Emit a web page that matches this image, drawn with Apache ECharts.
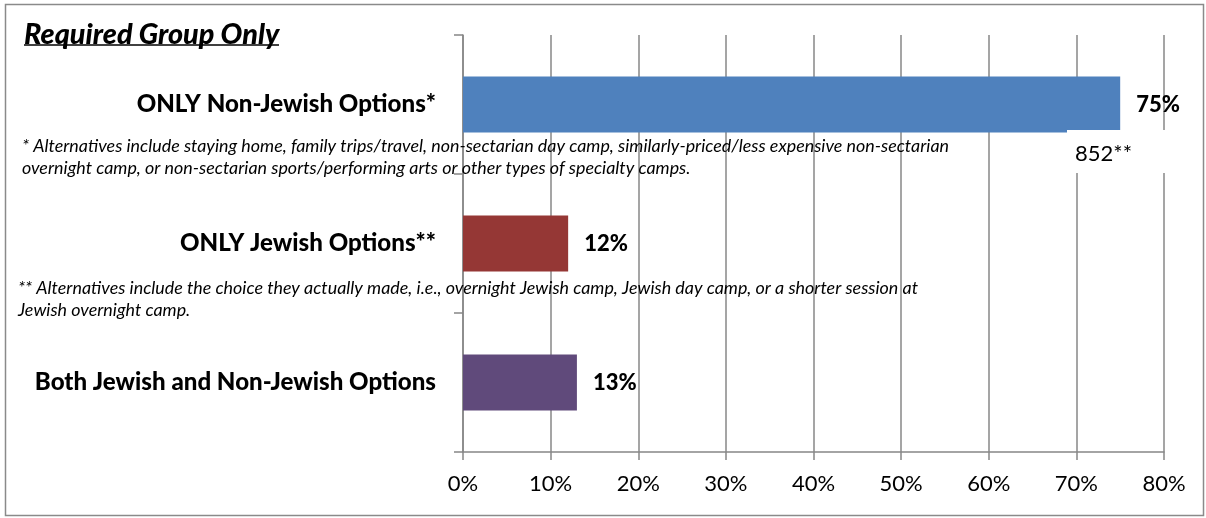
<!DOCTYPE html>
<html>
<head>
<meta charset="utf-8">
<script src="https://cdn.jsdelivr.net/npm/echarts@6/dist/echarts.min.js"></script>
<style>
html,body{margin:0;padding:0;background:#fff;}
#chart{width:1206px;height:518px;}
</style>
</head>
<body>
<div id="chart"></div>
<script>
// ---- data ----
var categories = ['ONLY Non-Jewish Options*', 'ONLY Jewish Options**', 'Both Jewish and Non-Jewish Options'];
var values = [75, 12, 13];
var barColors = ['#4F81BD', '#953735', '#604A7B'];
var xTicks = [0, 10, 20, 30, 40, 50, 60, 70, 80];
var titleText = 'Required Group Only';
var note1 = ['* Alternatives include staying home, family trips/travel, non-sectarian day camp, similarly-priced/less expensive non-sectarian',
             'overnight camp, or non-sectarian sports/performing arts or other types of specialty camps.'];
var note2 = ['** Alternatives include the choice they actually made, i.e., overnight Jewish camp, Jewish day camp, or a shorter session at',
             'Jewish overnight camp.'];
var sampleNote = '852**';

var FONT = 'Lato, "Open Sans", sans-serif';
var ctx = document.createElement('canvas').getContext('2d');
function measure(text, font) { ctx.font = font; return ctx.measureText(text).width; }

var catSize = Math.round(20 * 402 / measure(categories[2], '900 20px ' + FONT) * 10) / 10;
var titleSize = Math.round(20 * 255 / measure(titleText, 'italic 900 20px ' + FONT) * 10) / 10;
var noteSize = 18;
var noteScale = 927 / measure(note1[0], 'italic ' + noteSize + 'px ' + FONT);

var chart = echarts.init(document.getElementById('chart'), null, {renderer: 'canvas'});

function noteText(txt, x, y) {
  return {
    type: 'text', x: x, y: y, scaleX: noteScale, z: 50,
    style: {text: txt, fontFamily: FONT, fontStyle: 'italic', fontSize: noteSize,
            fill: '#000', textVerticalAlign: 'middle', textAlign: 'left'}
  };
}

var option = {
  animation: false,
  backgroundColor: '#fff',
  grid: {left: 463, right: 42, top: 35, bottom: 66, containLabel: false},
  xAxis: {
    type: 'value', min: 0, max: 80, interval: 10,
    axisLine: {show: true, lineStyle: {color: '#878787', width: 1.5}},
    axisTick: {show: true, length: 8, lineStyle: {color: '#878787', width: 1.5}},
    splitLine: {show: true, lineStyle: {color: '#878787', width: 1.5}},
    axisLabel: {formatter: '{value}%', fontFamily: FONT, fontSize: 22, color: '#000', margin: 21}
  },
  yAxis: {
    type: 'category', inverse: true, data: categories,
    axisLine: {show: true, lineStyle: {color: '#878787', width: 1.5}},
    axisTick: {show: true, length: 9, lineStyle: {color: '#878787', width: 1.5}},
    axisLabel: {fontFamily: FONT, fontWeight: 900, fontSize: catSize, color: '#000', margin: 27}
  },
  series: [{
    type: 'bar',
    barWidth: 56,
    data: values.map(function (v, i) { return {value: v, itemStyle: {color: barColors[i]}}; }),
    label: {show: true, position: 'right', distance: 16, formatter: '{c}%',
            fontFamily: FONT, fontWeight: 900, fontSize: 22, color: '#000'}
  }],
  graphic: [
    {type: 'rect', shape: {x: 5.5, y: 4.5, width: 1198, height: 511}, z: 1,
     style: {fill: 'none', stroke: '#8a8a8a', lineWidth: 1.5}},
    {type: 'text', x: 24, y: 35, z: 50,
     style: {text: titleText, fontFamily: FONT, fontStyle: 'italic', fontWeight: 900, fontSize: titleSize,
             fill: '#000', textVerticalAlign: 'middle', textAlign: 'left'}},
    {type: 'line', shape: {x1: 24, y1: 45, x2: 279, y2: 45}, z: 50, style: {stroke: '#000', lineWidth: 1.6}},
    noteText(note1[0], 22, 146),
    noteText(note1[1], 22, 168),
    noteText(note2[0], 18, 288),
    noteText(note2[1], 18, 310),
    {type: 'rect', shape: {x: 1067, y: 130, width: 115, height: 43}, z: 40,
     style: {fill: '#fff', stroke: 'none'}},
    {type: 'text', x: 1075, y: 154, z: 50,
     style: {text: sampleNote, fontFamily: FONT, fontSize: 22, fill: '#000', textVerticalAlign: 'middle', textAlign: 'left'}}
  ]
};
chart.setOption(option);
</script>
</body>
</html>
